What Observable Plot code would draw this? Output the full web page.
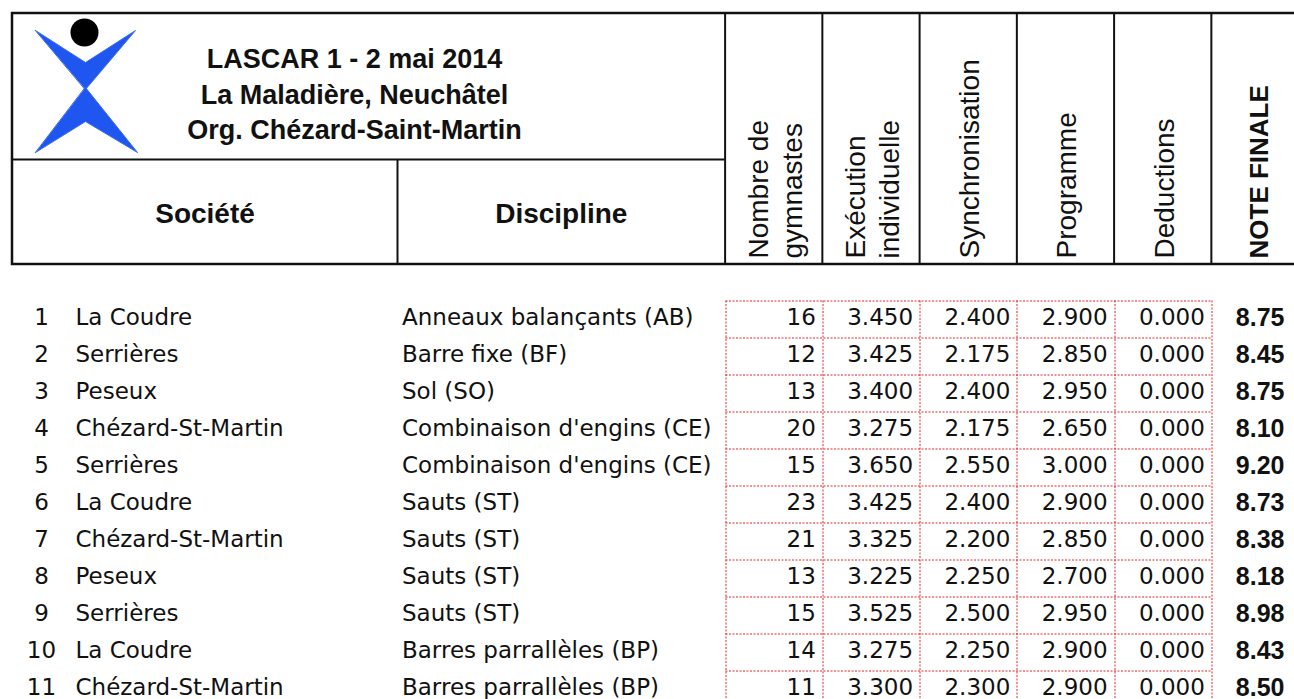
<!DOCTYPE html>
<html>
<head>
<meta charset="utf-8">
<script src="https://cdn.jsdelivr.net/npm/d3@7"></script>
<script src="https://cdn.jsdelivr.net/npm/@observablehq/plot@0.6"></script>
<style>
  html, body { margin: 0; padding: 0; background: #fff; overflow: hidden; }
  svg { display: block; }
</style>
</head>
<body>
<div id="chart"></div>
<script>
// ---------- DATA ----------
const titleLines = ["LASCAR 1 - 2 mai 2014", "La Maladière, Neuchâtel", "Org. Chézard-Saint-Martin"];
const leftHeaders = ["Société", "Discipline"];
const columnHeaders = ["Nombre de\ngymnastes", "Exécution\nindividuelle", "Synchronisation", "Programme", "Deductions", "NOTE FINALE"];

const ranks = [1, 2, 3, 4, 5, 6, 7, 8, 9, 10, 11];
const societes = ["La Coudre", "Serrières", "Peseux", "Chézard-St-Martin", "Serrières", "La Coudre",
  "Chézard-St-Martin", "Peseux", "Serrières", "La Coudre", "Chézard-St-Martin"];
const disciplines = ["Anneaux balançants (AB)", "Barre fixe (BF)", "Sol (SO)", "Combinaison d'engins (CE)",
  "Combinaison d'engins (CE)", "Sauts (ST)", "Sauts (ST)", "Sauts (ST)", "Sauts (ST)",
  "Barres parrallèles (BP)", "Barres parrallèles (BP)"];
const gymnastes = [16, 12, 13, 20, 15, 23, 21, 13, 15, 14, 11];
const execution = [3.450, 3.425, 3.400, 3.275, 3.650, 3.425, 3.325, 3.225, 3.525, 3.275, 3.300];
const synchronisation = [2.400, 2.175, 2.400, 2.175, 2.550, 2.400, 2.200, 2.250, 2.500, 2.250, 2.300];
const programme = [2.900, 2.850, 2.950, 2.650, 3.000, 2.900, 2.850, 2.700, 2.950, 2.900, 2.900];
const deductions = [0, 0, 0, 0, 0, 0, 0, 0, 0, 0, 0];
const noteFinale = [8.75, 8.45, 8.75, 8.10, 9.20, 8.73, 8.38, 8.18, 8.98, 8.43, 8.50];

// ---------- LAYOUT ----------
const W = 1294, H = 699;
const headerH = 266, bodyH = H - headerH;
const FONT_BODY = "'DejaVu Sans', Verdana, sans-serif";
const FONT_HEAD = "'Liberation Sans', Arial, Helvetica, sans-serif";
const INK = "#111";
const boxL = 12, boxT = 13, boxB = 264, boxR = 1340;
const titleDivY = 159, socDivX = 397;
const colLeft = 724.6, colW = 97.25;
const colEdges = d3.range(columnHeaders.length).map(k => colLeft + k * colW);
const gridEdges = colEdges.map(e => Math.round(e) + 0.5);
const rowH = 37, rowCenter0 = 300.5 + rowH / 2 - headerH;
const GRID = "#e5262c";

// logo (drawn shape)
const logoShapes = [
  {id: "arms", pts: [[35, 30], [85, 62], [135, 30], [85, 89]]},
  {id: "legs", pts: [[85, 87], [137, 152], [85, 121], [35, 152]]}
];
const logoPts = logoShapes.flatMap(s => s.pts.map(([x, y]) => ({id: s.id, x, y})));

// ---------- HEADER ----------
const header = Plot.plot({
  width: W, height: headerH, margin: 0,
  x: {type: "linear", domain: [0, W], range: [0, W], axis: null},
  y: {type: "linear", domain: [0, headerH], range: [0, headerH], axis: null},
  style: {background: "#fff", overflow: "hidden"},
  marks: [
    Plot.line(logoPts, {x: "x", y: "y", z: "id", curve: "linear-closed", fill: "#1f56f0", stroke: "#3a6cf2", strokeWidth: 1}),
    Plot.dot([0], {x: 84, y: 32, r: 14, fill: "#000", stroke: "none"}),
    Plot.rect([0], {x1: boxL, x2: boxR, y1: boxT, y2: boxB, fill: "none", stroke: INK, strokeWidth: 2.5}),
    Plot.ruleY([titleDivY], {x1: boxL, x2: colLeft, stroke: INK, strokeWidth: 2}),
    Plot.ruleX([socDivX], {y1: titleDivY, y2: boxB, stroke: INK, strokeWidth: 2}),
    Plot.ruleX(colEdges, {x: d => d, y1: boxT, y2: boxB, stroke: INK, strokeWidth: 2}),
    Plot.text([titleLines.join("\n")], {
      x: 354, y: 43, text: d => d, textAnchor: "middle", lineAnchor: "top", lineHeight: 1.3,
      fontSize: 27, fontWeight: "bold", fontFamily: FONT_HEAD, fill: INK
    }),
    Plot.text(leftHeaders, {
      x: (d, i) => [(boxL + socDivX) / 2, (socDivX + colLeft) / 2][i], y: 222, text: d => d,
      textAnchor: "middle", lineAnchor: "bottom", fontSize: 28, fontWeight: "bold", fontFamily: FONT_HEAD, fill: INK
    }),
    Plot.text(columnHeaders.slice(0, 5), {
      x: (d, i) => colLeft + colW * (i + 0.5), y: 258, text: d => d, rotate: -90,
      textAnchor: "start", lineAnchor: "middle", lineHeight: 1.22,
      fontSize: 28, fontFamily: FONT_HEAD, fill: INK
    }),
    Plot.text(columnHeaders.slice(5), {
      x: colLeft + colW * 5.5, y: 258, text: d => d, rotate: -90,
      textAnchor: "start", lineAnchor: "middle",
      fontSize: 26, fontWeight: "bold", fontFamily: FONT_HEAD, fill: INK
    })
  ]
});

// ---------- BODY ----------
const rows = ranks.map((r, i) => ({rank: r, societe: societes[i], discipline: disciplines[i], note: noteFinale[i]}));
const cells = ranks.flatMap((r, i) => [
  {rank: r, j: 0, text: String(gymnastes[i])},
  {rank: r, j: 1, text: execution[i].toFixed(3)},
  {rank: r, j: 2, text: synchronisation[i].toFixed(3)},
  {rank: r, j: 3, text: programme[i].toFixed(3)},
  {rank: r, j: 4, text: deductions[i].toFixed(3)}
]);
const gridLeft = gridEdges[0], gridRight = gridEdges[gridEdges.length - 1];
const TXT_DY = -2;
const bodyText = {fontSize: 23, fontFamily: FONT_BODY, fill: INK, dy: TXT_DY};
const dotted = {stroke: GRID, strokeWidth: 1, strokeDasharray: "2,1.5"};

const body = Plot.plot({
  width: W, height: bodyH, margin: 0,
  x: {type: "linear", domain: [0, W], range: [0, W], axis: null},
  y: {type: "point", domain: ranks, range: [rowCenter0, rowCenter0 + rowH * (ranks.length - 1)], padding: 0, round: false, axis: null},
  style: {background: "#fff", overflow: "hidden"},
  marks: [
    Plot.ruleY(ranks, {y: d => d, x1: gridLeft, x2: gridRight, dy: -rowH / 2, ...dotted}),
    Plot.ruleY(ranks.slice(-1), {y: d => d, x1: gridLeft, x2: gridRight, dy: rowH / 2, ...dotted}),
    Plot.ruleX(gridEdges, {x: d => d, y1: ranks[0], y2: ranks[ranks.length - 1], insetTop: -rowH / 2, insetBottom: -rowH / 2, ...dotted}),
    Plot.text(rows, {x: 41, y: "rank", text: d => String(d.rank), textAnchor: "middle", ...bodyText}),
    Plot.text(rows, {x: 75, y: "rank", text: "societe", textAnchor: "start", ...bodyText}),
    Plot.text(rows, {x: 401.5, y: "rank", text: "discipline", textAnchor: "start", ...bodyText}),
    Plot.text(cells, {x: d => colLeft + (d.j + 1) * colW - 6.5, y: "rank", text: "text", textAnchor: "end", ...bodyText}),
    Plot.text(rows, {x: 1284, y: "rank", text: d => d.note.toFixed(2), textAnchor: "end", fontSize: 25, fontWeight: "bold", fontFamily: FONT_HEAD, fill: INK, dy: TXT_DY})
  ]
});

const root = document.getElementById("chart");
root.appendChild(header);
root.appendChild(body);
</script>
</body>
</html>
